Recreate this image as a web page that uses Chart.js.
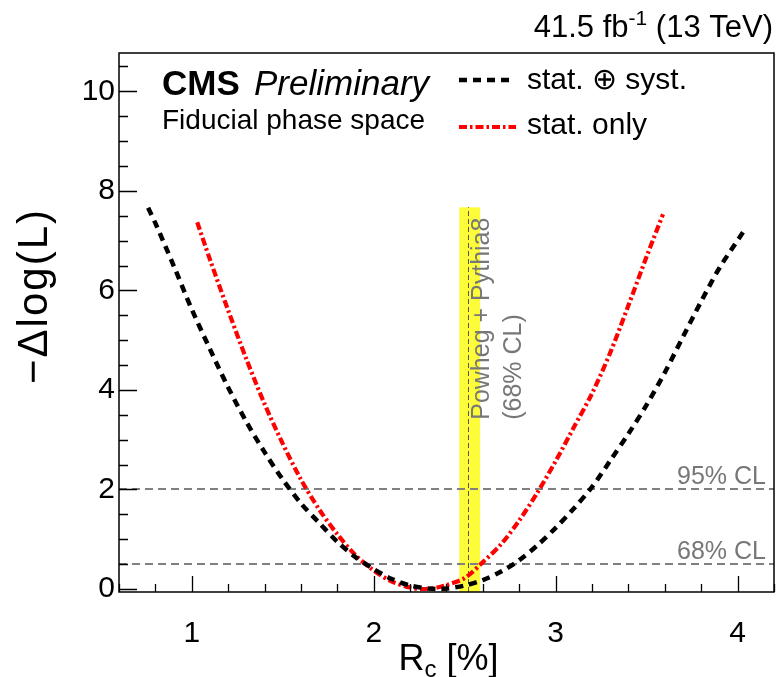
<!DOCTYPE html>
<html>
<head>
<meta charset="utf-8">
<script src="https://cdn.jsdelivr.net/npm/chart.js@4.4.1/dist/chart.umd.min.js"></script>
<style>
  html, body { margin: 0; padding: 0; background: #fff; }
  #wrap { width: 778px; height: 677px; position: relative; }
</style>
</head>
<body>
<div id="wrap"><canvas id="c"></canvas></div>
<script>
// Likelihood scan of R_c: stat. (+) syst.
const rcStatSyst  = [0.76, 0.80, 0.90, 1.00, 1.10, 1.20, 1.30, 1.40, 1.50, 1.60, 1.70, 1.80, 1.90, 2.00, 2.10, 2.20, 2.30, 2.35, 2.40, 2.50, 2.60, 2.70, 2.80, 2.90, 3.00, 3.10, 3.20, 3.30, 3.40, 3.50, 3.60, 3.70, 3.80, 3.90, 4.03];
const nllStatSyst = [7.66, 7.35, 6.50, 5.62, 4.82, 4.05, 3.36, 2.75, 2.20, 1.72, 1.33, 0.95, 0.64, 0.40, 0.20, 0.07, 0.01, 0.00, 0.01, 0.07, 0.18, 0.35, 0.58, 0.88, 1.23, 1.62, 2.05, 2.58, 3.12, 3.70, 4.35, 5.07, 5.78, 6.45, 7.17];

// Likelihood scan of R_c: stat. only
const rcStatOnly  = [1.03, 1.10, 1.20, 1.30, 1.40, 1.50, 1.60, 1.70, 1.80, 1.90, 2.00, 2.10, 2.20, 2.27, 2.35, 2.40, 2.50, 2.60, 2.70, 2.80, 2.90, 3.00, 3.10, 3.20, 3.30, 3.40, 3.50, 3.59];
const nllStatOnly = [7.37, 6.62, 5.60, 4.62, 3.72, 2.92, 2.20, 1.60, 1.10, 0.68, 0.37, 0.15, 0.03, 0.00, 0.03, 0.08, 0.22, 0.54, 0.90, 1.38, 1.94, 2.57, 3.25, 3.93, 4.75, 5.70, 6.68, 7.53];

// Axis ticks
const xTicks = [1, 2, 3, 4];
const yTicks = [0, 2, 4, 6, 8, 10];
const xMinorStep = 0.2;
const yMinorStep = 0.5;

// Confidence-level reference lines
const clLevels = [0.5, 2];
const clLabels = ['68% CL', '95% CL'];

// Powheg + Pythia8 prediction (central value and 68% CL band)
const predCentral = 2.52;
const predLow = 2.47;
const predHigh = 2.585;
const predBandTop = 7.67;
const predLabelStart = 3.4;
const predLabels = ['Powheg + Pythia8', '(68% CL)'];

const FONT = '"Liberation Sans", Arial, Helvetica, sans-serif';
const BLACK_DASH = [8, 6];
const RED_DASH = [8, 3, 2.5, 3];

function toPoints(xs, ys) { return xs.map((v, i) => ({ x: v, y: ys[i] })); }

const decor = {
  id: 'decor',
  beforeDatasetsDraw(chart) {
    const { ctx, chartArea: a, scales: { x, y } } = chart;
    ctx.save();
    ctx.beginPath();
    ctx.rect(a.left, a.top, a.right - a.left, a.bottom - a.top);
    ctx.clip();

    // prediction band
    const bx0 = x.getPixelForValue(predLow), bx1 = x.getPixelForValue(predHigh);
    const by = y.getPixelForValue(predBandTop);
    ctx.fillStyle = '#fcfc3a';
    ctx.fillRect(bx0, by, bx1 - bx0, a.bottom - by);

    // central prediction
    const cx = Math.round(x.getPixelForValue(predCentral)) + 0.5;
    ctx.strokeStyle = '#555';
    ctx.lineWidth = 1;
    ctx.setLineDash([5, 3]);
    ctx.beginPath(); ctx.moveTo(cx, a.bottom); ctx.lineTo(cx, by); ctx.stroke();

    // CL lines
    ctx.strokeStyle = '#808080';
    ctx.lineWidth = 2;
    ctx.setLineDash([8, 5]);
    clLevels.forEach(v => {
      const py = Math.round(y.getPixelForValue(v));
      ctx.beginPath(); ctx.moveTo(a.left, py); ctx.lineTo(a.right, py); ctx.stroke();
    });
    ctx.restore();
  },
  afterDatasetsDraw(chart) {
    const { ctx, chartArea: a, scales: { x, y } } = chart;
    ctx.save();

    // frame
    ctx.setLineDash([]);
    ctx.strokeStyle = '#000';
    ctx.lineWidth = 1.5;
    ctx.strokeRect(a.left, a.top, a.right - a.left, a.bottom - a.top);

    // inward ticks
    ctx.lineWidth = 1.3;
    ctx.beginPath();
    for (let v = Math.ceil(x.min / xMinorStep) * xMinorStep; v <= x.max + 1e-9; v += xMinorStep) {
      const major = Math.abs(v - Math.round(v)) < 1e-6;
      const px = Math.round(x.getPixelForValue(v)) + 0.5;
      ctx.moveTo(px, a.bottom); ctx.lineTo(px, a.bottom - (major ? 16 : 8));
    }
    for (let v = Math.ceil(y.min / yMinorStep) * yMinorStep; v <= y.max + 1e-9; v += yMinorStep) {
      const major = Math.abs(v / 2 - Math.round(v / 2)) < 1e-6;
      const py = Math.round(y.getPixelForValue(v)) + 0.5;
      ctx.moveTo(a.left, py); ctx.lineTo(a.left + (major ? 18 : 9), py);
    }
    ctx.stroke();

    // CL labels
    ctx.fillStyle = '#777';
    ctx.font = '25px ' + FONT;
    ctx.textAlign = 'right';
    ctx.textBaseline = 'alphabetic';
    clLevels.forEach((v, i) => {
      ctx.fillText(clLabels[i], a.right - 8, y.getPixelForValue(v) - 5);
    });

    // prediction label (rotated)
    ctx.save();
    ctx.translate(x.getPixelForValue(predHigh), y.getPixelForValue(predLabelStart));
    ctx.rotate(-Math.PI / 2);
    ctx.textAlign = 'left';
    ctx.fillText(predLabels[0], 0, 9);
    ctx.fillText(predLabels[1], 0, 41);
    ctx.restore();

    // CMS label
    ctx.fillStyle = '#000';
    ctx.textAlign = 'left';
    ctx.font = 'bold 35px ' + FONT;
    ctx.fillText('CMS', 162, 95);
    ctx.font = 'italic 35px ' + FONT;
    ctx.fillText('Preliminary', 254, 95);
    ctx.font = '28px ' + FONT;
    ctx.fillText('Fiducial phase space', 162, 129);

    // luminosity label
    const t1 = '41.5 fb', t3 = ' (13 TeV)';
    ctx.font = '21px ' + FONT; const w2 = ctx.measureText('-1').width;
    ctx.font = '31px ' + FONT;
    const w1 = ctx.measureText(t1).width, w3 = ctx.measureText(t3).width;
    let lx = 773 - (w1 + w2 + w3);
    ctx.fillText(t1, lx, 37); lx += w1;
    ctx.font = '21px ' + FONT; ctx.fillText('-1', lx, 25); lx += w2;
    ctx.font = '31px ' + FONT; ctx.fillText(t3, lx, 37);

    // legend
    const ds = chart.data.datasets;
    const legendRows = [{ d: ds[0], y: 80, x1: 509, ty: 89 }, { d: ds[1], y: 127, x1: 516, ty: 134 }];
    legendRows.forEach(r => {
      ctx.strokeStyle = r.d.borderColor;
      ctx.lineWidth = r.d.borderWidth;
      ctx.setLineDash(r.d.borderDash);
      ctx.beginPath(); ctx.moveTo(459, r.y); ctx.lineTo(r.x1, r.y); ctx.stroke();
      ctx.setLineDash([]);
      ctx.fillStyle = '#000';
      ctx.font = '30px ' + FONT;
      ctx.fillText(r.d.label, 527, r.ty);
    });

    // axis titles
    ctx.font = '36px ' + FONT;
    const wR = ctx.measureText('R').width, wRest = ctx.measureText(' [%]').width;
    ctx.font = '24px ' + FONT; const wc = ctx.measureText('c').width;
    let tx = (a.left + a.right) / 2 - (wR + wc + wRest) / 2 + 2;
    ctx.font = '36px ' + FONT; ctx.fillText('R', tx, 670); tx += wR;
    ctx.font = '24px ' + FONT; ctx.fillText('c', tx, 677); tx += wc;
    ctx.font = '36px ' + FONT; ctx.fillText(' [%]', tx, 670);

    ctx.save();
    ctx.translate(47, 296);
    ctx.rotate(-Math.PI / 2);
    ctx.textAlign = 'center';
    ctx.font = '42px ' + FONT;
    ctx.letterSpacing = '2px';
    ctx.fillText('\u2212\u0394log(L)', 0, 0);
    ctx.letterSpacing = '0px';
    ctx.restore();

    ctx.restore();
  }
};

new Chart(document.getElementById('c'), {
  type: 'line',
  data: {
    datasets: [
      {
        label: 'stat. \u2295 syst.',
        data: toPoints(rcStatSyst, nllStatSyst),
        borderColor: '#000',
        borderWidth: 4.5,
        borderDash: BLACK_DASH,
        borderCapStyle: 'butt',
        pointRadius: 0,
        tension: 0.3,
        fill: false,
        order: 0
      },
      {
        label: 'stat. only',
        data: toPoints(rcStatOnly, nllStatOnly),
        borderColor: '#ff0000',
        borderWidth: 4.2,
        borderDash: RED_DASH,
        borderCapStyle: 'butt',
        pointRadius: 0,
        tension: 0.3,
        fill: false,
        order: 1
      }
    ]
  },
  options: {
    responsive: true,
    maintainAspectRatio: false,
    devicePixelRatio: 1,
    animation: false,
    events: [],
    layout: { padding: { top: 53, right: 4, left: 0, bottom: 0 } },
    plugins: { legend: { display: false }, tooltip: { enabled: false } },
    scales: {
      x: {
        type: 'linear',
        min: 0.6,
        max: 4.2,
        grid: { display: false, drawTicks: false },
        border: { display: false },
        afterBuildTicks: s => { s.ticks = xTicks.map(v => ({ value: v })); },
        afterFit: s => { s.height = 85; },
        ticks: { color: '#000', font: { family: FONT, size: 30 }, padding: 24, maxRotation: 0, autoSkip: false }
      },
      y: {
        type: 'linear',
        min: -0.06,
        max: 10.77,
        grid: { display: false, drawTicks: false },
        border: { display: false },
        afterBuildTicks: s => { s.ticks = yTicks.map(v => ({ value: v })); },
        afterFit: s => { s.width = 119; },
        ticks: { color: '#000', font: { family: FONT, size: 30 }, padding: 4, autoSkip: false }
      }
    }
  },
  plugins: [decor]
});
</script>
</body>
</html>
